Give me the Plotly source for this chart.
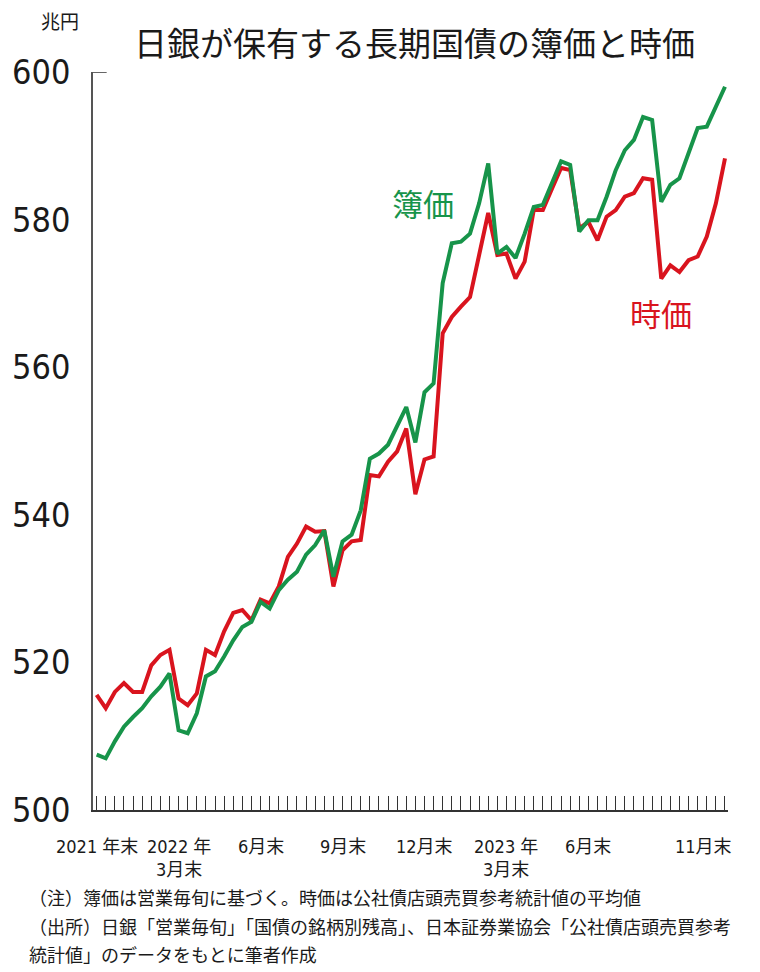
import plotly.graph_objects as go

# 旬末ごとの観測（2021年末〜2023年11月末、3旬/月）
periods = list(range(70))

# 簿価（兆円）
book_value = [
    507.5, 507.0, 509.3, 511.3, 512.6, 513.8, 515.4, 516.7, 518.5, 510.8,
    510.4, 513.1, 518.1, 518.8, 520.8, 523.0, 524.8, 525.5, 528.2, 527.3,
    529.8, 531.2, 532.3, 534.6, 535.9, 537.9, 531.6, 536.4, 537.3, 540.6,
    547.6, 548.3, 549.5, 552.2, 554.6, 549.8, 556.6, 557.8, 571.4, 576.8,
    577.0, 578.1, 582.2, 587.6, 575.4, 576.3, 574.8, 578.1, 581.7, 582.0,
    584.9, 587.9, 587.4, 578.4, 579.9, 579.9, 583.1, 586.7, 589.4, 590.8,
    593.9, 593.5, 582.4, 584.7, 585.6, 589.0, 592.4, 592.6, 595.3, 598.0,
]

# 時価（兆円）
market_value = [
    515.6, 513.8, 516.0, 517.2, 516.0, 516.0, 519.6, 521.0, 521.7, 515.1,
    514.2, 515.8, 521.7, 521.0, 524.2, 526.7, 527.1, 525.7, 528.5, 528.0,
    530.3, 534.3, 536.1, 538.4, 537.7, 537.8, 530.3, 535.2, 536.4, 536.6,
    545.4, 545.2, 547.2, 548.6, 551.7, 542.8, 547.5, 547.9, 564.6, 566.8,
    568.2, 569.5, 575.2, 580.9, 575.2, 575.4, 572.0, 574.3, 581.3, 581.3,
    584.2, 587.0, 586.7, 578.8, 579.7, 577.2, 580.4, 581.3, 583.1, 583.6,
    585.6, 585.4, 572.0, 573.8, 572.9, 574.5, 575.0, 577.7, 582.2, 588.3,
]

# x軸の目盛りラベル
tick_pos = [0, 9, 18, 27, 36, 45, 54, 69]
tick_text = ["2021 年末", "2022 年<br>3月末", "6月末", "9月末", "12月末",
             "2023 年<br>3月末", "6月末", "11月末"]

y_ticks = [500, 520, 540, 560, 580, 600]

title_text = "日銀が保有する長期国債の簿価と時価"
unit_text = "兆円"
notes = [
    "（注）簿価は営業毎旬に基づく。時価は公社債店頭売買参考統計値の平均値",
    "（出所）日銀「営業毎旬」「国債の銘柄別残高」、日本証券業協会「公社債店頭売買参考",
    "統計値」のデータをもとに筆者作成",
]

GREEN = "#17944a"
RED = "#d9141e"
NARROW = "Liberation Sans Narrow, DejaVu Sans Condensed, Noto Sans CJK JP, sans-serif"
CJK = "Noto Sans CJK JP, sans-serif"

W, H = 760, 972
M_L, M_R, M_T, M_B = 83, 32, 72, 162
plot_w = W - M_L - M_R
plot_h = H - M_T - M_B


def paper_x(px):
    """Convert a pixel column on the page to paper x."""
    return (px - M_L) / plot_w


def paper_y(py):
    """Convert a pixel row on the page to paper y."""
    return (H - M_B - py) / plot_h


fig = go.Figure()
fig.add_trace(go.Scatter(x=periods, y=market_value, mode="lines",
                         line=dict(color=RED, width=4), name="時価",
                         hoverinfo="skip"))
fig.add_trace(go.Scatter(x=periods, y=book_value, mode="lines",
                         line=dict(color=GREEN, width=4), name="簿価",
                         hoverinfo="skip"))

annotations = []
# x軸ラベル
for i, (p, t) in enumerate(zip(tick_pos, tick_text)):
    last = i == len(tick_pos) - 1
    annotations.append(dict(
        x=p, y=0, xref="x", yref="paper", text=t, showarrow=False,
        xanchor="right" if last else "center", yanchor="top",
        xshift=9 if last else 0, yshift=-24, align="center",
        font=dict(family=NARROW, size=18, color="#1a1a1a"),
    ))

# 系列ラベル
annotations.append(dict(x=35.8, y=582.3, xref="x", yref="y", text="簿価",
                        xanchor="center", yanchor="middle", showarrow=False,
                        font=dict(family=CJK, size=31, color=GREEN)))
annotations.append(dict(x=62.0, y=567.4, xref="x", yref="y", text="時価",
                        xanchor="center", yanchor="middle", showarrow=False,
                        font=dict(family=CJK, size=31, color=RED)))

# タイトル・単位
annotations.append(dict(x=paper_x(410), y=paper_y(42), xref="paper", yref="paper",
                        text=title_text, showarrow=False,
                        xanchor="center", yanchor="middle",
                        font=dict(family=CJK, size=33, color="#1a1a1a")))
annotations.append(dict(x=paper_x(49), y=paper_y(20), xref="paper", yref="paper",
                        text=unit_text, showarrow=False,
                        xanchor="center", yanchor="middle",
                        font=dict(family=CJK, size=19, color="#1a1a1a")))

# 注記
for line, py in zip(notes, [897, 926, 954]):
    annotations.append(dict(x=paper_x(16), y=paper_y(py), xref="paper", yref="paper",
                            text=line, showarrow=False, xanchor="left",
                            yanchor="middle",
                            font=dict(family=CJK, size=18, color="#1a1a1a")))

fig.update_layout(
    width=W, height=H,
    margin=dict(l=M_L, r=M_R, t=M_T, b=M_B, pad=0),
    paper_bgcolor="white", plot_bgcolor="white",
    showlegend=False,
    annotations=annotations,
    shapes=[dict(type="line", xref="x", yref="y", x0=-0.4, x1=1.1, y0=600, y1=600,
                 line=dict(color="#333", width=1.5))],
)
fig.update_xaxes(
    range=[-0.4, 69.33], tickvals=periods, ticks="inside", ticklen=14,
    tickwidth=1, tickcolor="#333", showticklabels=False, showgrid=False,
    zeroline=False, showline=True, linecolor="#333", linewidth=1.5,
)
fig.update_yaxes(
    range=[500, 600], tickvals=y_ticks, ticks="", showgrid=False, zeroline=False,
    showline=True, linecolor="#555", linewidth=1.5, ticklabelstandoff=14,
    tickfont=dict(family=NARROW, size=34, color="#1a1a1a"),
)

fig.write_html("out.html")
